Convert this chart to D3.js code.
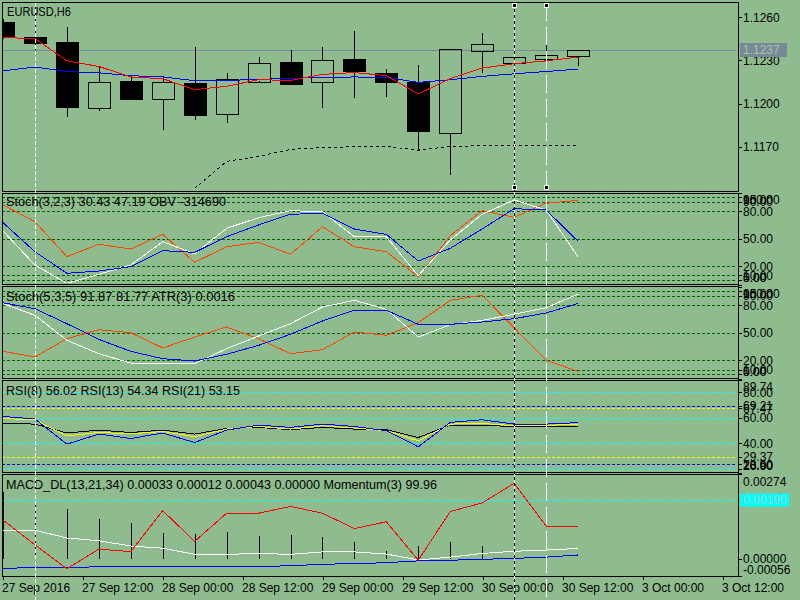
<!DOCTYPE html>
<html>
<head>
<meta charset="utf-8">
<script src="https://cdn.jsdelivr.net/npm/d3@7/dist/d3.min.js"></script>
<style>
  html, body { margin: 0; padding: 0; background: #8fbc8f; }
  svg { display: block; }
  text { font-family: "Liberation Sans", Arial, sans-serif; font-size: 12px; fill: #000; }
</style>
</head>
<body>
<svg id="chart" width="800" height="600"></svg>
<script>
// EURUSD H6 candles
let opens  = [1.12570, 1.12460, 1.12429, 1.11970, 1.12159, 1.12032, 1.12145, 1.11928, 1.12154, 1.12290, 1.12150, 1.12309, 1.12214, 1.12150, 1.11797, 1.12369, 1.12282, 1.12309, 1.12327]
let highs  = [1.12590, 1.12680, 1.12533, 1.12263, 1.12198, 1.12192, 1.12394, 1.12214, 1.12325, 1.12374, 1.12394, 1.12505, 1.12242, 1.12270, 1.12378, 1.12491, 1.12450, 1.12417, 1.12372]
let lows   = [1.12450, 1.12370, 1.11905, 1.11946, 1.12027, 1.11815, 1.11884, 1.11863, 1.12143, 1.12126, 1.11967, 1.12036, 1.12043, 1.11674, 1.11503, 1.12212, 1.12282, 1.12300, 1.12258]
let closes = [1.12466, 1.12418, 1.11974, 1.12150, 1.12036, 1.12150, 1.11919, 1.12173, 1.12284, 1.12140, 1.12302, 1.12223, 1.12154, 1.11808, 1.12378, 1.12415, 1.12323, 1.12337, 1.12372]

// moving averages and the lower dotted line on the price chart
let maRed  = [1.12459, 1.12452, 1.12297, 1.12258, 1.12185, 1.12173, 1.12097, 1.12120, 1.12166, 1.12161, 1.12203, 1.12216, 1.12194, 1.12067, 1.12173, 1.12247, 1.12277, 1.12297, 1.12323]
let maBlue = [1.12228, 1.12254, 1.12223, 1.12214, 1.12194, 1.12185, 1.12159, 1.12161, 1.12168, 1.12175, 1.12182, 1.12185, 1.12182, 1.12147, 1.12166, 1.12189, 1.12207, 1.12223, 1.12240]
let lowBand = [null, null, null, null, null, null, 1.11410, 1.11598, 1.11633, 1.11681, 1.11695, 1.11699, 1.11702, 1.11676, 1.11702, 1.11707, 1.11707, 1.11707, 1.11707]

// Stoch(3,2,3) + OBV (scaled)
let stoch1Main   = [58.3, 21.3, 1.4, 11.2, 21.3, 46.7, 33.3, 61.3, 72.8, 80.4, 79.3, 52.1, 52.1, 9.7, 48.5, 76.5, 92.1, 81.2, 30.43]
let stoch1Signal = [67.4, 35.8, 12.3, 14.8, 19.5, 36.9, 35.1, 52.1, 64.9, 76.5, 77.6, 60.5, 54.7, 25.7, 39.5, 60.5, 82.6, 81.2, 47.19]
let obvLine      = [86.6, 68.4, 30.4, 43.9, 38.7, 54.7, 24.3, 41.2, 46.0, 33.0, 63.0, 41.2, 35.8, 8.6, 53.2, 80.4, 73.2, 88.5, 91.7]

// Stoch(5,3,5) + ATR (scaled)
let stoch2Main   = [81.6, 69.0, 41.9, 27.3, 17.2, 17.2, 16.5, 32.8, 46.5, 59.9, 78.0, 85.2, 75.5, 45.4, 58.8, 63.5, 70.1, 77.2, 91.87]
let stoch2Signal = [82.6, 76.1, 59.9, 42.9, 29.9, 21.9, 19.4, 26.7, 36.4, 48.4, 62.8, 74.4, 74.4, 59.2, 59.2, 61.7, 65.3, 71.5, 81.77]
let atrLine      = [29.9, 23.8, 43.6, 53.4, 50.1, 33.5, 45.4, 56.3, 43.6, 27.3, 31.7, 50.9, 47.3, 61.0, 85.2, 90.7, 55.5, 20.2, 8.2]
let stochLevels  = [95, 90, 80, 50, 20, 10, 5]
let stochLabels  = [100, 95, 90, 80, 50, 20, 10, 5, 0]

// RSI 8 / 13 / 21
let rsi8  = [60.9, 58.9, 39.2, 47.1, 43.6, 47.9, 40.5, 50.2, 54.1, 52.3, 54.9, 53.0, 49.7, 37.1, 56.2, 58.3, 54.9, 54.9, 56.02]
let rsi13 = [59.3, 58.1, 45.7, 48.3, 47.3, 49.1, 45.0, 51.0, 53.0, 51.0, 53.6, 51.8, 49.7, 41.8, 54.9, 55.4, 53.6, 54.1, 54.34]
let rsi21 = [55.4, 54.9, 47.9, 50.2, 48.3, 50.2, 47.1, 51.5, 52.3, 50.5, 52.3, 51.0, 50.5, 44.4, 54.1, 54.1, 52.8, 52.8, 53.15]
let rsiCyanLevels   = [80, 60, 40, 20]
let rsiBlueLevels   = [69.21, 23.50]
let rsiYellowLevels = [67.47, 29.37]
let rsiLabels = [89.74, 80, 69.21, 67.47, 60, 40, 29.37, 23.50, 20, 16.90]

// MACD_DL(13,21,34) + Momentum(3)
let macdMain   = [0.00092, 0.00092, 0.00067, 0.00058, 0.00041, 0.00034, 0.00014, 0.00014, 0.00017, 0.00014, 0.00022, 0.00022, 0.00015, -0.00004, 0.00005, 0.00017, 0.00024, 0.00028, 0.00033]
let macdSignal = [-0.00031, -0.00029, -0.00029, -0.00026, -0.00026, -0.00026, -0.00026, -0.00026, -0.00025, -0.00023, -0.00018, -0.00016, -0.00013, -0.00007, -0.00005, -0.00002, 0.00001, 0.00005, 0.00012]
let macdHist   = [0, 0.00217, 0.00188, 0.00161, 0.00128, 0.00116, 0.00082, 0.00080, 0.00087, 0.00074, 0.00076, 0.00071, 0.00055, 0, 0.00026, 0.00041, 0.00055, 0.00041, 0.00043]
let momentum   = [100.03, 99.74, 99.46, 99.69, 99.66, 100.14, 99.78, 100.11, 100.11, 100.19, 100.11, 99.93, 100.01, 99.56, 100.13, 100.23, 100.46, 99.96, 99.96]
let macdLevel  = 0.00190
let macdLabels = [0.00274, 0.00000, -0.00056]

let priceTicks = [1.1260, 1.1230, 1.1200, 1.1170]
let timeLabels = ['27 Sep 2016', '27 Sep 12:00', '28 Sep 00:00', '28 Sep 12:00', '29 Sep 00:00', '29 Sep 12:00', '30 Sep 00:00', '30 Sep 12:00', '3 Oct 00:00', '3 Oct 12:00']

let titles = [
  'EURUSD,H6',
  'Stoch(3,2,3) 30.43 47.19 OBV -314690',
  'Stoch(5,3,5) 91.87 81.77 ATR(3) 0.0016',
  'RSI(8) 56.02 RSI(13) 54.34 RSI(21) 53.15',
  'MACD_DL(13,21,34) 0.00033 0.00012 0.00043 0.00000 Momentum(3) 99.96'
]

// vertical line objects (bar index)
let vBars = [1, 16, 17]

window.onload = function () {
  let svg = d3.select('#chart')
  let bg = '#8fbc8f'
  let left = 2
  let right = 738

  let panels = [
    {top: 2, bottom: 190.5},
    {top: 192.5, bottom: 284},
    {top: 286, bottom: 378},
    {top: 380, bottom: 472},
    {top: 474, bottom: 576}
  ]

  let x = d3.scaleLinear().domain([0, closes.length - 1]).range([3, 578])
  let xTime = d3.scaleLinear().domain([0, timeLabels.length - 1]).range([2.5, 722.5])

  let yPrice = d3.scaleLinear().domain([1.1170, 1.1260]).range([146.7, 17.3])
  let yStoch1 = d3.scaleLinear().domain([0, 100]).range([284.6, 192.7])
  let yStoch2 = d3.scaleLinear().domain([0, 100]).range([378.9, 286.7])
  let yRsi = d3.scaleLinear().domain([20, 80]).range([468.7, 392])
  let yMacd = d3.scaleLinear().domain([-0.00056, 0.00274]).range([576, 474])
  let yMom = d3.scaleLinear().domain([99.375, 100.569]).range([576, 474])

  svg.append('rect').attr('width', 800).attr('height', 600).attr('fill', bg)

  // clip paths, one per panel
  let defs = svg.append('defs')
  panels.forEach(function (p, i) {
    defs.append('clipPath').attr('id', 'clip' + i)
      .append('rect')
      .attr('x', left + 1).attr('y', p.top + 1)
      .attr('width', right - left - 2).attr('height', p.bottom - p.top - 2)
  })

  let layers = panels.map((p, i) => svg.append('g').attr('clip-path', `url(#clip${i})`))

  var hLevels = function (g, values, y, color) {
    g.selectAll(null)
      .data(values)
      .enter()
      .append('line')
      .attr('x1', left).attr('x2', right)
      .attr('y1', d => Math.round(y(d)) + 0.5)
      .attr('y2', d => Math.round(y(d)) + 0.5)
      .attr('stroke', color)
      .attr('stroke-dasharray', '3,2')
  }

  var drawLine = function (g, data, y, color, dash) {
    g.append('path')
      .datum(data)
      .attr('d', d3.line().defined(d => d != null).x((d, i) => x(i)).y(d => y(d)))
      .attr('fill', 'none')
      .attr('stroke', color)
      .attr('stroke-width', 1)
      .attr('stroke-dasharray', dash || null)
      .attr('shape-rendering', 'crispEdges')
  }

  var rightAxis = function (values, y, fmt, p) {
    let g = svg.append('g')
      .attr('transform', `translate(${right},0)`)
      .call(d3.axisRight(y).tickValues(values).tickFormat(fmt).tickSize(4).tickPadding(1).tickSizeOuter(0))
    g.attr('font-family', null).attr('font-size', null)
    g.select('.domain').remove()
    g.selectAll('line').attr('shape-rendering', 'crispEdges')
    // keep labels inside the panel
    g.selectAll('text')
      .attr('dy', null)
      .attr('dominant-baseline', 'central')
      .attr('y', d => Math.max(p.top + 7, Math.min(p.bottom - 7, y(d))) - y(d))
    return g
  }

  // ---- main price panel
  let g0 = layers[0]
  let lastPrice = closes[closes.length - 1]
  g0.append('line')
    .attr('x1', left).attr('x2', right)
    .attr('y1', Math.round(yPrice(lastPrice)) + 0.5).attr('y2', Math.round(yPrice(lastPrice)) + 0.5)
    .attr('stroke', '#778899')

  let candle = g0.selectAll('g.candle')
    .data(closes)
    .enter()
    .append('g')
    .attr('class', 'candle')
    .attr('shape-rendering', 'crispEdges')

  // wicks drawn above and below the body only
  candle.append('line')
    .attr('x1', (d, i) => Math.round(x(i)) + 0.5).attr('x2', (d, i) => Math.round(x(i)) + 0.5)
    .attr('y1', (d, i) => yPrice(highs[i]))
    .attr('y2', (d, i) => yPrice(Math.max(opens[i], closes[i])))
    .attr('stroke', '#000')
  candle.append('line')
    .attr('x1', (d, i) => Math.round(x(i)) + 0.5).attr('x2', (d, i) => Math.round(x(i)) + 0.5)
    .attr('y1', (d, i) => yPrice(Math.min(opens[i], closes[i])))
    .attr('y2', (d, i) => yPrice(lows[i]))
    .attr('stroke', '#000')
  candle.append('rect')
    .attr('x', (d, i) => Math.round(x(i)) - 11 + 0.5)
    .attr('width', 22)
    .attr('y', (d, i) => Math.round(yPrice(Math.max(opens[i], closes[i]))) + 0.5)
    .attr('height', (d, i) => Math.max(1, Math.round(yPrice(Math.min(opens[i], closes[i])) - yPrice(Math.max(opens[i], closes[i])))))
    .attr('fill', (d, i) => closes[i] < opens[i] ? '#000' : 'none')
    .attr('stroke', '#000')

  drawLine(g0, maBlue, yPrice, '#0000ff')
  drawLine(g0, maRed, yPrice, '#ff0000')
  drawLine(g0, lowBand, yPrice, '#000', '3,3')

  // ---- Stoch(3,2,3)
  let g1 = layers[1]
  hLevels(g1, stochLevels, yStoch1, '#006400')
  drawLine(g1, obvLine, yStoch1, '#ff4500')
  drawLine(g1, stoch1Main, yStoch1, '#ffffff')
  drawLine(g1, stoch1Signal, yStoch1, '#0000ff')

  // ---- Stoch(5,3,5)
  let g2 = layers[2]
  hLevels(g2, stochLevels, yStoch2, '#006400')
  drawLine(g2, atrLine, yStoch2, '#ff4500')
  drawLine(g2, stoch2Main, yStoch2, '#ffffff')
  drawLine(g2, stoch2Signal, yStoch2, '#0000ff')

  // ---- RSI
  let g3 = layers[3]
  hLevels(g3, rsiCyanLevels, yRsi, '#00ffff')
  hLevels(g3, rsiBlueLevels, yRsi, '#0000ff')
  hLevels(g3, rsiYellowLevels, yRsi, '#ffff00')
  drawLine(g3, rsi21, yRsi, '#000000')
  drawLine(g3, rsi13, yRsi, '#ffff00')
  drawLine(g3, rsi8, yRsi, '#0000ff')

  // ---- MACD + Momentum
  let g4 = layers[4]
  hLevels(g4, [macdLevel], yMacd, '#00ffff')
  g4.selectAll('line.hist')
    .data(macdHist)
    .enter()
    .append('line')
    .attr('class', 'hist')
    .filter(d => d !== 0)
    .attr('x1', (d, i) => Math.round(x(i)) + 0.5).attr('x2', (d, i) => Math.round(x(i)) + 0.5)
    .attr('y1', yMacd(0)).attr('y2', d => yMacd(d))
    .attr('stroke', '#000')
    .attr('shape-rendering', 'crispEdges')
  drawLine(g4, macdMain, yMacd, '#ffffff')
  drawLine(g4, macdSignal, yMacd, '#0000ff')
  drawLine(g4, momentum, yMom, '#ff0000')

  // panel borders
  panels.forEach(function (p) {
    svg.append('rect')
      .attr('x', left + 0.5).attr('y', p.top + 0.5)
      .attr('width', right - left).attr('height', p.bottom - p.top)
      .attr('fill', 'none').attr('stroke', '#000')
      .attr('shape-rendering', 'crispEdges')
  })

  // titles (widths measured on the original)
  let titleY = [16, 206, 301, 395, 489]
  let titleW = [64, 220, 229, 234, 431]
  svg.selectAll('text.title')
    .data(titles)
    .enter()
    .append('text')
    .attr('class', 'title')
    .attr('x', (d, i) => i === 0 ? 7 : 6)
    .attr('y', (d, i) => titleY[i])
    .attr('textLength', (d, i) => titleW[i])
    .attr('lengthAdjust', 'spacingAndGlyphs')
    .style('font-size', '12.5px')
    .text(d => d)

  // right scales
  rightAxis(priceTicks, yPrice, d => d.toFixed(4), panels[0])
  rightAxis(stochLabels, yStoch1, d => d.toFixed(2), panels[1])
  rightAxis(stochLabels, yStoch2, d => d.toFixed(2), panels[2])
  rightAxis(rsiLabels, yRsi, d => d.toFixed(2), panels[3])
  rightAxis(macdLabels, yMacd, d => d.toFixed(5), panels[4])

  // current price tag
  let py = yPrice(lastPrice)
  svg.append('rect')
    .attr('x', 740).attr('y', Math.round(py) - 7).attr('width', 47).attr('height', 14)
    .attr('fill', '#778899')
  svg.append('text')
    .attr('x', 743).attr('y', py).attr('dominant-baseline', 'central')
    .style('fill', '#a3c9a3')
    .text(lastPrice.toFixed(4))

  // level tag on the MACD panel
  let my = yMacd(macdLevel)
  svg.append('rect')
    .attr('x', 740).attr('y', Math.round(my) - 6.5).attr('width', 49).attr('height', 13)
    .attr('fill', '#00ffff')
  svg.append('text')
    .attr('x', 743).attr('y', my).attr('dominant-baseline', 'central')
    .style('fill', '#8fd8c8')
    .text(macdLevel.toFixed(5))

  // time axis
  let xa = svg.append('g')
    .attr('transform', `translate(0,${panels[4].bottom})`)
    .call(d3.axisBottom(xTime).tickValues(d3.range(timeLabels.length)).tickFormat(i => timeLabels[i]).tickSize(4).tickSizeOuter(0))
  xa.attr('font-family', null).attr('font-size', null)
  xa.select('.domain').remove()
  xa.selectAll('line').attr('shape-rendering', 'crispEdges')
  xa.selectAll('text').attr('text-anchor', 'start').attr('x', -1)

  // vertical line objects
  let vx = vBars.map(i => Math.round(x(i)) + 0.5)
  let vg = svg.append('g').attr('shape-rendering', 'crispEdges')
  vg.append('line').attr('x1', vx[0]).attr('x2', vx[0]).attr('y1', 3).attr('y2', 600)
    .attr('stroke', '#fff').attr('stroke-dasharray', '4,2')
  vg.append('line').attr('x1', vx[1]).attr('x2', vx[1]).attr('y1', 3).attr('y2', 600)
    .attr('stroke', '#fff')
  vg.append('line').attr('x1', vx[1]).attr('x2', vx[1]).attr('y1', 3).attr('y2', 600)
    .attr('stroke', '#000').attr('stroke-dasharray', '3,3')
  vg.append('line').attr('x1', vx[2]).attr('x2', vx[2]).attr('y1', 3).attr('y2', 600)
    .attr('stroke', '#fff').attr('stroke-dasharray', '18,6')

  // selection handles
  vg.selectAll('rect')
    .data([vx[1], vx[2]].flatMap(v => [[v, 5], [v, 187]]))
    .enter()
    .append('rect')
    .attr('x', d => d[0] - 2).attr('y', d => d[1] - 2)
    .attr('width', 4).attr('height', 4)
    .attr('fill', '#000').attr('stroke', '#fff')
}
</script>
</body>
</html>
